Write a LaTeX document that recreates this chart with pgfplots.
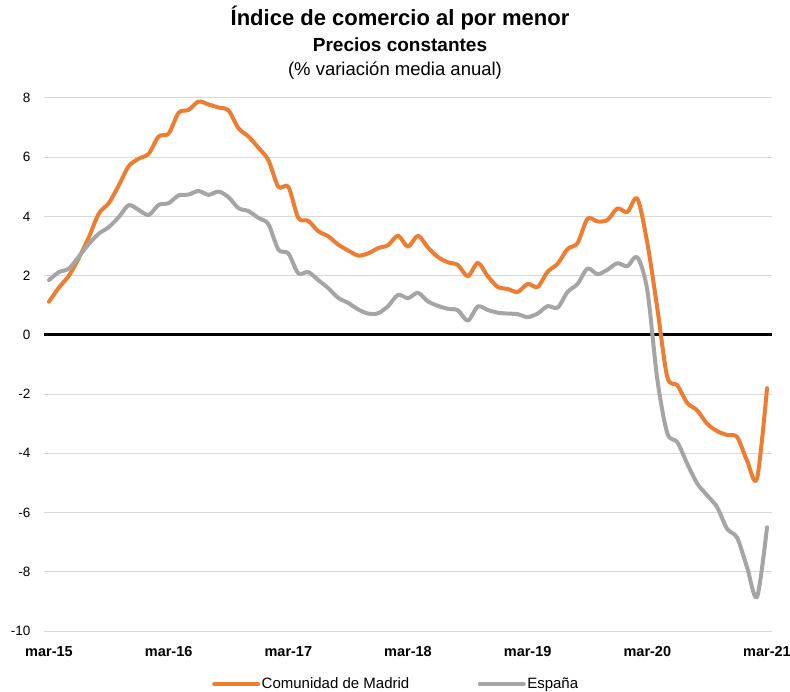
\documentclass[border=0pt]{standalone}
\usepackage{fontspec}
\setmainfont{Liberation Sans}
\usepackage{pgfplots}
\usepackage{pgfplotstable}
\pgfplotsset{compat=1.18}
\definecolor{cmorange}{HTML}{ED7D31}
\definecolor{esgray}{HTML}{A5A5A5}
\definecolor{gridgray}{HTML}{D9D9D9}

\pgfplotstableread{
x madrid espana
0 1.12 1.85
1 1.60 2.12
2 2.00 2.24
3 2.60 2.65
4 3.30 3.07
5 4.10 3.42
6 4.45 3.64
7 5.05 3.98
8 5.70 4.38
9 5.95 4.22
10 6.12 4.05
11 6.70 4.39
12 6.80 4.45
13 7.50 4.71
14 7.60 4.74
15 7.88 4.86
16 7.78 4.73
17 7.68 4.84
18 7.58 4.65
19 6.98 4.28
20 6.70 4.18
21 6.32 3.95
22 5.90 3.74
23 5.00 2.88
24 5.00 2.75
25 3.95 2.08
26 3.85 2.12
27 3.50 1.85
28 3.33 1.58
29 3.05 1.25
30 2.85 1.08
31 2.68 0.86
32 2.75 0.72
33 2.93 0.73
34 3.03 0.97
35 3.35 1.35
36 2.98 1.24
37 3.35 1.42
38 2.95 1.13
39 2.63 0.98
40 2.45 0.88
41 2.36 0.83
42 1.98 0.48
43 2.43 0.96
44 1.98 0.84
45 1.62 0.75
46 1.55 0.72
47 1.45 0.70
48 1.72 0.60
49 1.62 0.72
50 2.13 0.97
51 2.40 0.92
52 2.90 1.45
53 3.10 1.72
54 3.92 2.24
55 3.83 2.05
56 3.88 2.20
57 4.27 2.42
58 4.15 2.32
59 4.60 2.62
60 3.10 1.50
61 0.90 -1.50
62 -1.42 -3.32
63 -1.70 -3.62
64 -2.30 -4.35
65 -2.55 -5.02
66 -3.00 -5.42
67 -3.25 -5.82
68 -3.38 -6.55
69 -3.45 -6.85
70 -4.25 -7.85
71 -4.85 -8.85
72 -1.80 -6.50
}\datatable

\begin{document}
\begin{tikzpicture}
\path[use as bounding box] (0pt,0pt) rectangle (790pt,691pt);
\node[anchor=base, font=\bfseries\fontsize{22}{26}\selectfont] at (400pt,665pt) {Índice de comercio al por menor};
\node[anchor=base, font=\bfseries\fontsize{19}{22}\selectfont] at (400pt,639.5pt) {Precios constantes};
\node[anchor=base, font=\fontsize{18.5}{22}\selectfont] at (395pt,615pt) {(\% variación media anual)};
\begin{axis}[
  at={(44pt,60pt)}, anchor=south west,
  width=728pt, height=533pt, scale only axis,
  xmin=-0.5, xmax=72.5, ymin=-10, ymax=8,
  xtick={0,12,24,36,48,60,72},
  xticklabels={mar-15,mar-16,mar-17,mar-18,mar-19,mar-20,mar-21},
  ytick={-10,-8,...,8},
  axis line style={draw=none},
  major tick length=0pt,
  ymajorgrids, grid style={gridgray, line width=1pt},
  /pgf/number format/assume math mode=true,
  x tick label style={font=\bfseries\fontsize{14.5}{17}\selectfont, anchor=base, yshift=-25pt},
  y tick label style={font=\fontsize{13.5}{16}\selectfont, anchor=east, xshift=-10pt},
  legend columns=2,
  legend style={at={(0.2308,-0.0994)}, anchor=west, draw=none, fill=none, inner sep=0pt,
    font=\fontsize{15}{18}\selectfont,
    nodes={inner sep=1.5pt},
    /tikz/every even column/.append style={column sep=67pt}},
  legend image code/.code={\draw[#1, line width=4pt, line cap=round] (0pt,0pt) -- (44pt,0pt);},
]
\addplot[black, line width=3pt, forget plot] coordinates {(-0.5,0) (72.5,0)};
\addplot[cmorange, line width=4pt, smooth, tension=0.5, line join=round, line cap=round] table[x=x, y=madrid] {\datatable};
\addlegendentry{Comunidad de Madrid}
\addplot[esgray, line width=4pt, smooth, tension=0.5, line join=round, line cap=round] table[x=x, y=espana] {\datatable};
\addlegendentry{España}
\end{axis}
\end{tikzpicture}
\end{document}
